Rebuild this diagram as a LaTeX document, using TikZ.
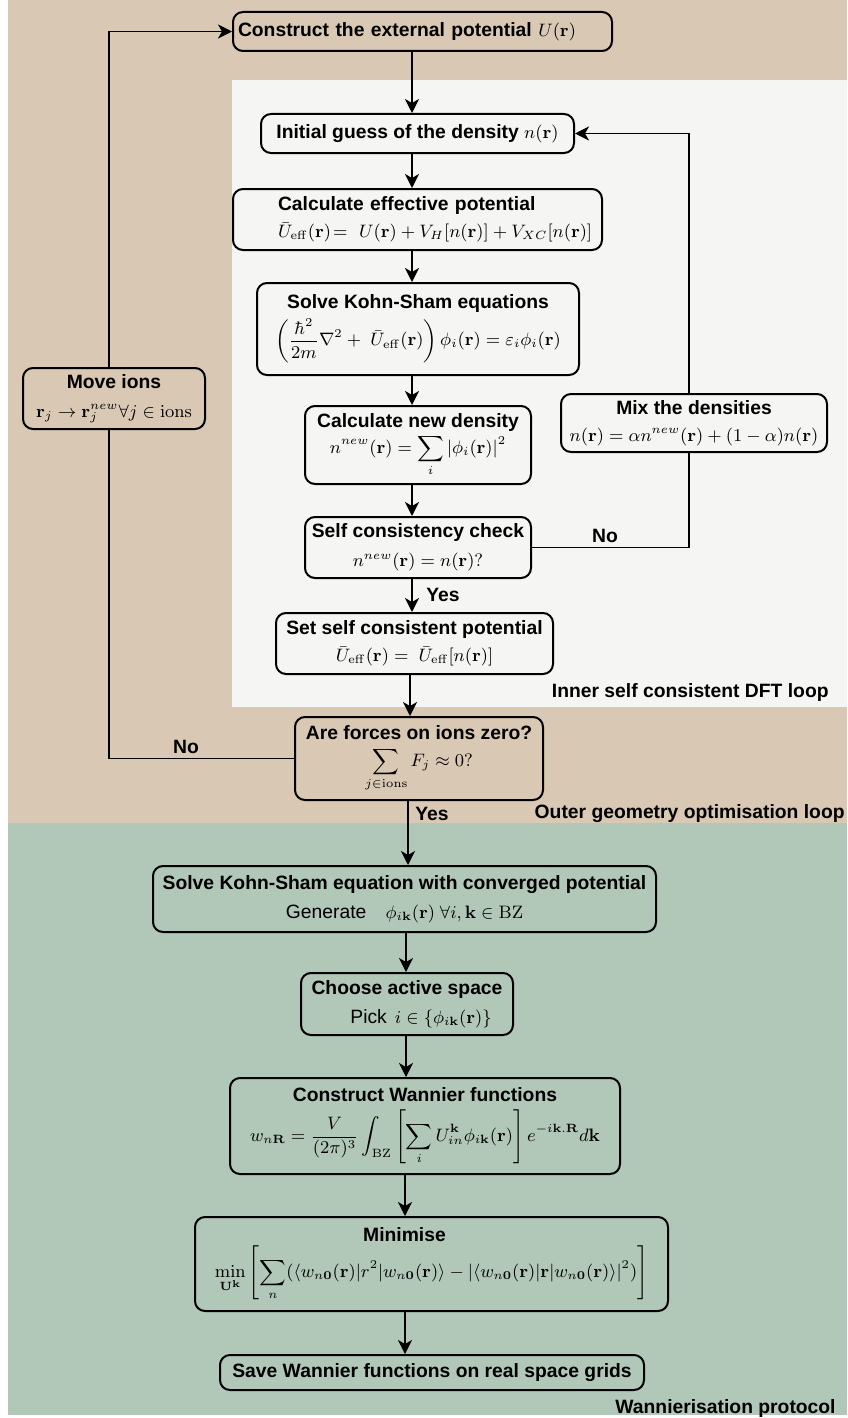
\RequirePackage{fix-cm}
\documentclass[tikz,border=0pt]{standalone}
\usepackage{amsmath}
\usepackage[no-math]{fontspec}
\setmainfont{Liberation Sans}
\usetikzlibrary{arrows.meta}
\definecolor{tanbg}{RGB}{217,200,179}
\definecolor{greenbg}{RGB}{177,199,184}
\definecolor{innerbg}{RGB}{245,245,243}
\newcommand\fs{\fontsize{9.65}{11.6}\selectfont}
\newcommand\ms{\fontsize{9}{11}\selectfont}
\newcommand\vb[1]{\mathbf{#1}}
\tikzset{
  box/.style={draw, line width=1pt, rounded corners=5pt, align=center, inner sep=1pt, font=\fs},
  arr/.style={-{Stealth[length=7pt,width=7pt,inset=2pt]}, line width=0.85pt},
  ln/.style={line width=0.85pt},
  lab/.style={font=\fs\bfseries, inner sep=0pt},
}
\begin{document}
\begin{tikzpicture}[x=0.5pt,y=-0.5pt,font=\fs]
\useasboundingbox (0,0) rectangle (847,1418);
\fill[tanbg] (8,0) rectangle (847,823);
\fill[greenbg] (8,823) rectangle (847,1415);
\fill[innerbg] (232,80) rectangle (847,707);

% nodes
\node[box, text width=184.5pt, inner xsep=2.5pt, minimum height=19.5pt, align=left] (ext) at (422.5,31.5)
  {\textbf{Construct the external potential} {\ms$U(\vb r)$}};
\node[box, minimum width=156.5pt, minimum height=19.5pt] (init) at (417.5,133.5)
  {\textbf{Initial guess of the density} {\ms$n(\vb r)$}};
\node[box, text width=139.5pt, inner xsep=22.5pt, minimum height=30.5pt, align=left] (eff) at (417.5,219.5)
  {\textbf{Calculate effective potential}\\[2pt]
   \mbox{\ms$\bar U_{\mathrm{eff}}(\vb r)\!=\ U(\vb r)+V_H[n(\vb r)]+V_{XC}[n(\vb r)]$}};
\node[box, minimum width=161pt, minimum height=46pt] (ks) at (418,329)
  {\textbf{Solve Kohn-Sham equations}\\[2pt]
   {\ms$\displaystyle\left(\frac{\hbar^2}{2m}\nabla^2+\ \bar U_{\mathrm{eff}}(\vb r)\right)\phi_i(\vb r)=\varepsilon_i\phi_i(\vb r)$}};
\node[box, minimum width=91pt, minimum height=30.5pt] (move) at (114,398.5)
  {\textbf{Move ions}\\[3pt] {\ms$\vb r_j\rightarrow \vb r_j^{new}\forall j\in\mathrm{ions}$}};
\node[box, minimum width=113pt, minimum height=39pt] (newd) at (418,445)
  {\textbf{Calculate new density}\\[1pt] {\ms$\displaystyle n^{new}(\vb r)=\sum_i|\phi_i(\vb r)|^2$}};
\node[box, minimum width=133pt, minimum height=29pt] (mix) at (694,423)
  {\textbf{Mix the densities}\\[2pt] {\ms$n(\vb r)=\alpha n^{new}(\vb r)+(1-\alpha)n(\vb r)$}};
\node[box, minimum width=113pt, minimum height=30.5pt] (chk) at (418,547.5)
  {\textbf{Self consistency check}\\[3pt] {\ms$n^{new}(\vb r)=n(\vb r)?$}};
\node[box, minimum width=138.5pt, minimum height=30.5pt] (setp) at (414.5,643.5)
  {\textbf{Set self consistent potential}\\[2pt] {\ms$\bar U_{\mathrm{eff}}(\vb r)=\ \bar U_{\mathrm{eff}}[n(\vb r)]$}};
\node[box, minimum width=124pt, minimum height=41.5pt] (frc) at (419,758.5)
  {\textbf{Are forces on ions zero?}\\[2pt] {\ms$\displaystyle\sum_{j\in\mathrm{ions}}F_j\approx 0?$}};
\node[box, minimum width=251.5pt, minimum height=33pt] (ksc) at (404.5,899)
  {\textbf{Solve Kohn-Sham equation with converged potential}\\[3pt]
   Generate\quad {\ms$\phi_{i\vb k}(\vb r)\ \forall i,\vb k\in\mathrm{BZ}$}};
\node[box, minimum width=106pt, minimum height=31pt] (cho) at (407,1004)
  {\textbf{Choose active space}\\[3pt] \hspace*{14pt}Pick\hspace{4pt}{\ms$i\in\{\phi_{i\vb k}(\vb r)\}$}};
\node[box, minimum width=195pt, minimum height=48pt] (wan) at (425,1126)
  {\textbf{Construct Wannier functions}\\[3pt]
   {\ms$\displaystyle w_{n\vb R}=\frac{V}{(2\pi)^3}\int_{\mathrm{BZ}}\left[\sum_i U_{in}^{\vb k}\phi_{i\vb k}(\vb r)\right]e^{-i\vb k.\vb R}d\vb k$}};
\node[box, minimum width=236.5pt, minimum height=47pt] (mini) at (431.5,1264)
  {\textbf{Minimise}\hspace*{27pt}\\[1pt]
   {\ms$\displaystyle\min_{\vb U^{\vb k}}\left[\sum_n(\langle w_{n\vb 0}(\vb r)|r^2|w_{n\vb 0}(\vb r)\rangle-|\langle w_{n\vb 0}(\vb r)|\vb r|w_{n\vb 0}(\vb r)\rangle|^2)\right]$}};
\node[box, minimum width=212pt, minimum height=17.5pt] (save) at (432,1372.5)
  {\textbf{Save Wannier functions on real space grids}};

% region labels
\node[lab, anchor=east] (linner) at (829,693) {Inner self consistent DFT loop};
\node[lab, anchor=east] (louter) at (845,814) {Outer geometry optimisation loop};
\node[lab, anchor=east] (lwan) at (836,1408) {Wannierisation protocol};

% branch labels
\node[lab] (no1) at (605,536) {No};
\node[lab] (yes1) at (443,595) {Yes};
\node[lab] (no2) at (186,747) {No};
\node[lab] (yes2) at (432,814) {Yes};

% arrow columns
\coordinate (a1) at (412,0);
\coordinate (a2) at (410,0);
\coordinate (a3) at (408,0);
\coordinate (a4) at (406,0);
\coordinate (a5) at (405,0);
\coordinate (fbx) at (689,0);
\coordinate (mvx) at (109,0);

\draw[arr] (ext.south -| a1) -- (init.north -| a1);
\draw[arr] (init.south -| a1) -- (eff.north -| a1);
\draw[arr] (eff.south -| a1) -- (ks.north -| a1);
\draw[arr] (ks.south -| a1) -- (newd.north -| a1);
\draw[arr] (newd.south -| a1) -- (chk.north -| a1);
\draw[arr] (chk.south -| a1) -- (setp.north -| a1);
\draw[arr] (setp.south -| a2) -- (frc.north -| a2);
\draw[arr] (frc.south -| a3) -- (ksc.north -| a3);
\draw[arr] (ksc.south -| a4) -- (cho.north -| a4);
\draw[arr] (cho.south -| a4) -- (wan.north -| a4);
\draw[arr] (wan.south -| a5) -- (mini.north -| a5);
\draw[arr] (mini.south -| a5) -- (save.north -| a5);

% feedback loops
\draw[ln] (chk.east) -- (chk.east -| fbx) -- (mix.south -| fbx);
\draw[arr] (mix.north -| fbx) |- (init.east);
\draw[ln] (frc.west) -- (frc.west -| mvx) -- (move.south -| mvx);
\draw[arr] (move.north -| mvx) |- (ext.west);
\end{tikzpicture}
\end{document}
